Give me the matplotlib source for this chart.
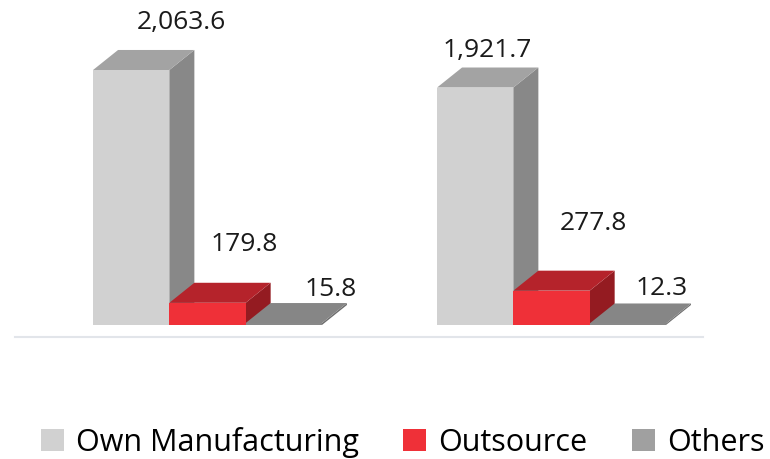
import matplotlib.pyplot as plt
from matplotlib.patches import Polygon, Patch

plt.rcParams['font.family'] = ['Open Sans', 'DejaVu Sans']

# 数据
groups = ['A', 'B']
series = ['Own Manufacturing', 'Outsource', 'Others']
own_mfg = [2063.6, 1921.7]
outsource = [179.8, 277.8]
others = [15.8, 12.3]
values = [own_mfg, outsource, others]

# 每个系列的颜色: 正面, 顶面, 侧面
front_c = ['#d1d1d1', '#ef3038', '#888888']
top_c = ['#a3a3a3', '#b5232b', '#868686']
side_c = ['#888888', '#941b21', '#6e6e6e']
legend_c = ['#d1d1d1', '#ef3038', '#a0a0a0']

# 数值标签相对柱子正面顶部中心的偏移(像素)
label_off = [[(50, 41), (37, 52), (47, 27)],
             [(12, 31), (42, 61), (34, 28)]]

fig = plt.figure(figsize=(7.7, 4.59), dpi=100)
ax = fig.add_axes([15 / 770, 122 / 459, 688 / 770, 337 / 459])
ax.set_xlim(-0.5596, 1.4404)
ax.set_ylim(-97, 2630)

w = 0.2218   # 柱宽
dx = 0.0727  # 立体深度(横向)
dy = 162     # 立体深度(纵向)

# 从左往右画, 右边柱子挡住左边柱子侧面的下半部分
for g in range(len(groups)):
    for s in range(len(series)):
        v = values[s][g]
        x0 = g - 1.5 * w + s * w
        ax.add_patch(Polygon([(x0 + w, 0), (x0 + w + dx, dy), (x0 + w + dx, v + dy), (x0 + w, v)],
                             closed=True, facecolor=side_c[s], edgecolor='none'))
        ax.add_patch(Polygon([(x0, v), (x0 + w, v), (x0 + w + dx, v + dy), (x0 + dx, v + dy)],
                             closed=True, facecolor=top_c[s], edgecolor='none'))
        ax.bar(x0, v, width=w, align='edge', color=front_c[s], edgecolor='none')
        ox, oy = label_off[g][s]
        ax.annotate(f'{v:,.1f}', xy=(x0 + w / 2, v), xytext=(ox, oy),
                    textcoords='offset pixels', ha='center', va='baseline',
                    fontsize=19, color='#1a1a1a')

for sp in ['top', 'left', 'right']:
    ax.spines[sp].set_visible(False)
ax.spines['bottom'].set_color('#e2e5ea')
ax.spines['bottom'].set_linewidth(1.5)
ax.set_xticks([])
ax.set_yticks([])

handles = [Patch(facecolor=c, edgecolor='none', label=n) for c, n in zip(legend_c, series)]
fig.legend(handles=handles, loc='center', bbox_to_anchor=(0.5227, 0.037), ncol=3,
           frameon=False, fontsize=22, handlelength=0.75, handleheight=0.75,
           handletextpad=0.4, columnspacing=1.45, borderpad=0, borderaxespad=0)

fig.savefig('out.png', dpi=100)
